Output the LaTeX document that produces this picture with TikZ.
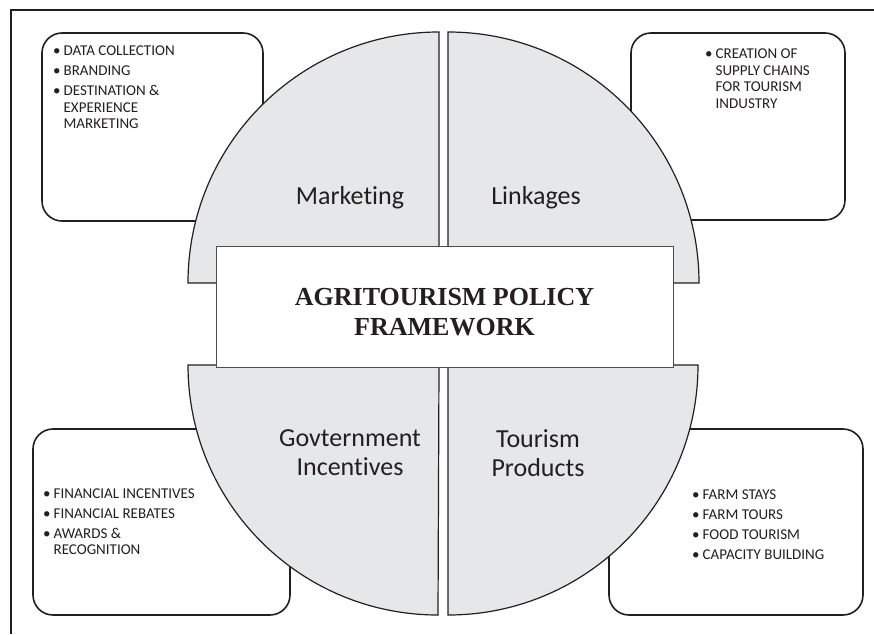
\documentclass[tikz,border=0pt]{standalone}
\usepackage{fontspec}
\setmainfont{Carlito}[Ligatures=NoCommon]
\newfontfamily\titlefont{Liberation Serif}
\definecolor{quadgray}{HTML}{E6E7E8}
\definecolor{ink}{HTML}{231F20}

\begin{document}
\begin{tikzpicture}[x=1pt, y=-1pt,
	listbox/.style={draw=ink, line width=1.6pt, rounded corners=20pt, fill=white},
	quad/.style={draw=ink, line width=1.2pt, fill=quadgray},
	quadlabel/.style={font=\fontsize{26}{29}\selectfont, text=ink, align=center},
	items/.style={font=\fontsize{15}{16.5}\selectfont, text=ink, align=left, anchor=north west, inner sep=0pt}]
		\useasboundingbox (0,0) rectangle (874,634);

		\draw[line width=2pt, ink] (11,634) -- (11,10) -- (874,10);

		\draw (152.5,127) node[listbox, minimum width=221, minimum height=188] (boxTL) {};
		\draw (738,126.5) node[listbox, minimum width=214, minimum height=187] (boxTR) {};
		\draw (161.5,522) node[listbox, minimum width=257, minimum height=186] (boxBL) {};
		\draw (736,522) node[listbox, minimum width=254, minimum height=186] (boxBR) {};

		\draw[quad] (439,283) -- (188,283) arc[start angle=180, end angle=90, radius=251pt] -- cycle;
		\draw[quad] (448,283) -- (448,32) arc[start angle=90, end angle=0, radius=251pt] -- cycle;
		\draw[quad] (439,365) -- (188,365) arc[start angle=180, end angle=270, radius=250pt] -- cycle;
		\draw[quad] (448,365) -- (448,615) arc[start angle=270, end angle=360, radius=250pt] -- cycle;

		\draw (350,197.5) node[quadlabel] (marketing) {Marketing};
		\draw (536,197.5) node[quadlabel] (linkages) {Linkages};
		\draw (350,453) node[quadlabel] (govt) {Govternment\\Incentives};
		\draw (538,453) node[quadlabel] (products) {Tourism\\Products};

		\draw (444.5,306.5) node[draw=ink!80, line width=0.8pt, fill=white, minimum width=457, minimum height=121] (policy) {};
		\draw (444.5,312) node[font=\titlefont\bfseries\fontsize{26}{30}\selectfont, text=ink, align=center] (title) {AGRITOURISM POLICY\\FRAMEWORK};

		\draw (53,44) node[items] (listTL) {\begin{tabular}{@{}l@{\hspace{3pt}}l@{}}
			\textbullet & DATA COLLECTION\\[3.5pt]
			\textbullet & BRANDING\\[3.5pt]
			\textbullet & DESTINATION \&\\
			& EXPERIENCE\\
			& MARKETING
		\end{tabular}};
		\draw (705,47) node[items] (listTR) {\begin{tabular}{@{}l@{\hspace{3pt}}l@{}}
			\textbullet & CREATION OF\\
			& SUPPLY CHAINS\\
			& FOR TOURISM\\
			& INDUSTRY
		\end{tabular}};
		\draw (43,486.5) node[items] (listBL) {\begin{tabular}{@{}l@{\hspace{3pt}}l@{}}
			\textbullet & FINANCIAL INCENTIVES\\[3.5pt]
			\textbullet & FINANCIAL REBATES\\[3.5pt]
			\textbullet & AWARDS \&\\
			& RECOGNITION
		\end{tabular}};
		\draw (692,487.5) node[items] (listBR) {\begin{tabular}{@{}l@{\hspace{3pt}}l@{}}
			\textbullet & FARM STAYS\\[3.5pt]
			\textbullet & FARM TOURS\\[3.5pt]
			\textbullet & FOOD TOURISM\\[3.5pt]
			\textbullet & CAPACITY BUILDING
		\end{tabular}};
	\end{tikzpicture}
\end{document}
